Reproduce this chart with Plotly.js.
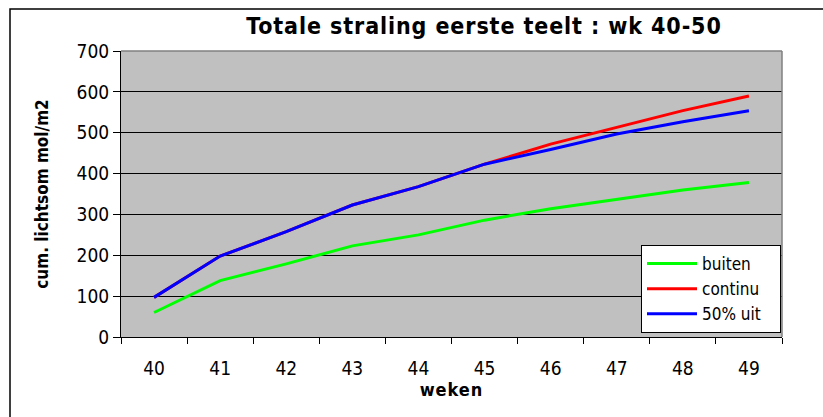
<!DOCTYPE html>
<html>
<head>
<meta charset="utf-8">
<script src="https://cdn.plot.ly/plotly-3.0.1.min.js"></script>
<style>
html,body{margin:0;padding:0;background:#fff;}
#chart{width:823px;height:417px;}
</style>
</head>
<body>
<div id="chart"></div>
<script>
var weken = ["40","41","42","43","44","45","46","47","48","49"];
var buiten = [60, 138, 179, 223, 250, 286, 314, 337, 360, 378];
var continu = [97, 198, 258, 323, 368, 423, 472, 513, 554, 590];
var uit50 = [97, 198, 258, 323, 368, 423, 459, 497, 527, 554];

var FONT = '"DejaVu Sans Condensed", "Liberation Sans Narrow", "Liberation Sans", Arial, sans-serif';
var BFONT = '"DejaVu Sans Condensed", "Liberation Sans", Arial, sans-serif';

var traces = [
  {x: weken, y: buiten, name: "buiten", type: "scatter", mode: "lines", line: {color: "#00ff00", width: 3}},
  {x: weken, y: continu, name: "continu", type: "scatter", mode: "lines", line: {color: "#ff0000", width: 3}},
  {x: weken, y: uit50, name: "50% uit", type: "scatter", mode: "lines", line: {color: "#0000ff", width: 3}}
];

var L = 121, R = 782, T = 51, B = 337;
var W = R - L, H = B - T;
function px(x){ return (x - L) / W; }
function py(y){ return (B - y) / H; }

var layout = {
  width: 823, height: 417,
  margin: {l: L, r: 823 - R, t: T, b: 417 - B, pad: 0},
  paper_bgcolor: "#ffffff",
  plot_bgcolor: "#c0c0c0",
  showlegend: true,
  hovermode: false,
  font: {family: FONT, color: "#000", size: 19},
  title: {
    text: "<b>Totale straling eerste teelt : wk 40-50</b>",
    font: {family: BFONT, size: 23, color: "#000"},
    x: px(484), xref: "paper", xanchor: "center",
    y: py(27), yref: "paper", yanchor: "middle"
  },
  xaxis: {
    type: "category",
    tickson: "boundaries",
    ticks: "outside", ticklen: 6, tickcolor: "#000", tickwidth: 1,
    ticklabelstandoff: 14,
    showline: true, linecolor: "#000", linewidth: 1,
    showgrid: false, zeroline: false,
    tickfont: {family: FONT, size: 19, color: "#000"},
    title: {text: "<b>weken</b>", font: {family: BFONT, size: 18, color: "#000"}, standoff: 0},
    range: [-0.5, 9.5],
    fixedrange: true
  },
  yaxis: {
    range: [0, 700],
    tickvals: [0,100,200,300,400,500,600,700],
    ticks: "outside", ticklen: 7, tickcolor: "#000", tickwidth: 1,
    showline: true, linecolor: "#000", linewidth: 1,
    showgrid: true, gridcolor: "#000", gridwidth: 1,
    zeroline: false,
    tickfont: {family: FONT, size: 19, color: "#000"},
    title: {text: "<b>cum. lichtsom mol/m2</b>", font: {family: BFONT, size: 17, color: "#000"}, standoff: 23},
    fixedrange: true
  },
  legend: {
    x: px(641), y: py(245), xanchor: "left", yanchor: "top",
    bgcolor: "#ffffff", bordercolor: "#000", borderwidth: 1,
    font: {family: FONT, size: 17, color: "#000"},
    itemwidth: 50,
    tracegroupgap: 0
  },
  shapes: [
    {type: "rect", xref: "paper", yref: "paper", x0: px(10), x1: px(900), y0: py(500), y1: py(9),
     line: {color: "#000", width: 1.5}, fillcolor: "rgba(0,0,0,0)", layer: "below"},
    {type: "line", xref: "paper", yref: "paper", x0: 0, x1: 1, y0: 1, y1: 1, line: {color: "#808080", width: 1.5}},
    {type: "line", xref: "paper", yref: "paper", x0: 1, x1: 1, y0: 0, y1: 1, line: {color: "#808080", width: 1.5}}
  ]
};

Plotly.newPlot("chart", traces, layout, {staticPlot: true, displayModeBar: false}).then(function(gd){
  var t = gd.querySelector(".gtitle");
  if (t) t.style.letterSpacing = "0.9px";
  gd.querySelectorAll(".xtitle").forEach(function(e){ e.style.letterSpacing = "1px"; });
  gd.querySelectorAll(".legendlines path").forEach(function(p){ p.setAttribute("d", "M5,0h50"); });
  var bg = gd.querySelector(".legend .bg");
  if (bg) bg.setAttribute("width", 139);
});
</script>
</body>
</html>
